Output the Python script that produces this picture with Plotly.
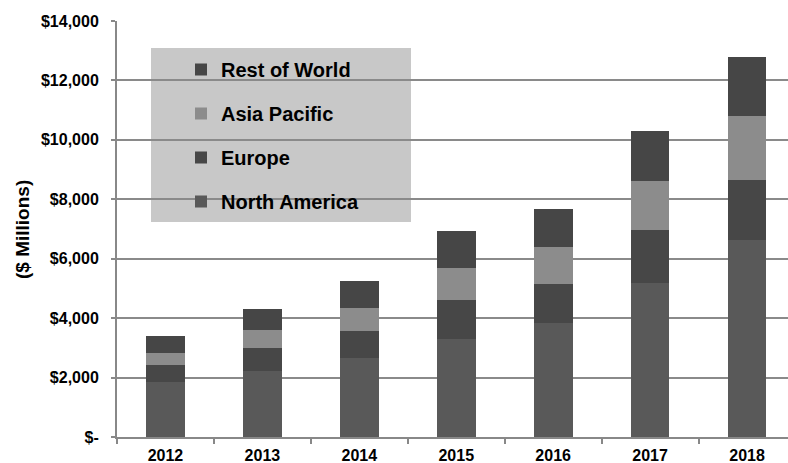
import plotly.graph_objects as go

years = ["2012", "2013", "2014", "2015", "2016", "2017", "2018"]
north_america = [1850, 2220, 2670, 3310, 3850, 5180, 6640]
europe = [570, 765, 900, 1290, 1310, 1775, 2020]
asia_pacific = [420, 615, 760, 1100, 1235, 1660, 2140]
rest_of_world = [550, 700, 920, 1230, 1290, 1685, 1990]

series = [
    ("North America", north_america, "#595959", 4),
    ("Europe", europe, "#474747", 3),
    ("Asia Pacific", asia_pacific, "#8c8c8c", 2),
    ("Rest of World", rest_of_world, "#464646", 1),
]

tick_vals = [0, 2000, 4000, 6000, 8000, 10000, 12000, 14000]
tick_text = ["$-", "$2,000", "$4,000", "$6,000", "$8,000", "$10,000", "$12,000", "$14,000"]

fig = go.Figure()
for name, vals, color, rank in series:
    fig.add_trace(go.Bar(
        x=years, y=vals, name=name, legendgroup=name, legendrank=rank,
        marker=dict(color=color, line=dict(width=0)),
        width=0.40,
    ))

W, H = 788, 463
L, T, B = 117, 21, 26
pw = W - L
ph = H - T - B

fig.update_layout(
    width=W, height=H,
    margin=dict(l=L, r=0, t=T, b=B),
    barmode="stack",
    plot_bgcolor="white", paper_bgcolor="white",
    font=dict(family="Liberation Sans, Arial, sans-serif", color="black"),
    showlegend=True,
    legend=dict(
        x=(181 - L) / pw, y=1 - (50 - T) / ph,
        xanchor="left", yanchor="top",
        bgcolor="rgba(0,0,0,0)",
        traceorder="grouped",
        tracegroupgap=15,
        font=dict(size=20, family="Liberation Sans, Arial, sans-serif", color="black", weight="bold"),
    ),
    shapes=[dict(
        type="rect", xref="paper", yref="paper",
        x0=(151 - L) / pw, x1=(411 - L) / pw,
        y0=1 - (222 - T) / ph, y1=1 - (48 - T) / ph,
        fillcolor="#c8c8c8", line=dict(width=0), layer="below",
    )],
    annotations=[dict(
        text="($ Millions)", xref="paper", yref="paper",
        x=(22 - L) / pw, y=1 - (230 - T) / ph,
        xanchor="center", yanchor="middle", textangle=-90, showarrow=False,
        font=dict(size=19, weight="bold", color="black"),
    )],
)

fig.update_xaxes(
    type="category",
    range=[-0.5, (W - 165) / 97.0],
    showline=True, linecolor="#888888", linewidth=2,
    ticks="outside", tickson="boundaries", ticklen=5, tickcolor="#888888", tickwidth=2,
    showgrid=False,
    ticklabelstandoff=3,
    tickfont=dict(size=16, weight="bold", color="black"),
)
fig.update_yaxes(
    range=[0, 14000],
    tickvals=tick_vals, ticktext=tick_text,
    showline=True, linecolor="#888888", linewidth=2,
    ticks="outside", ticklen=4, tickcolor="#888888", tickwidth=2,
    showgrid=True, gridcolor="#8a8a8a", gridwidth=2,
    zeroline=False,
    ticklabelstandoff=9,
    tickfont=dict(size=16, weight="bold", color="black"),
)

fig.write_html(
    "out.html",
    config={"displayModeBar": False},
    post_script="document.body.style.margin='0';document.body.style.padding='0';document.body.style.overflow='hidden';",
)
